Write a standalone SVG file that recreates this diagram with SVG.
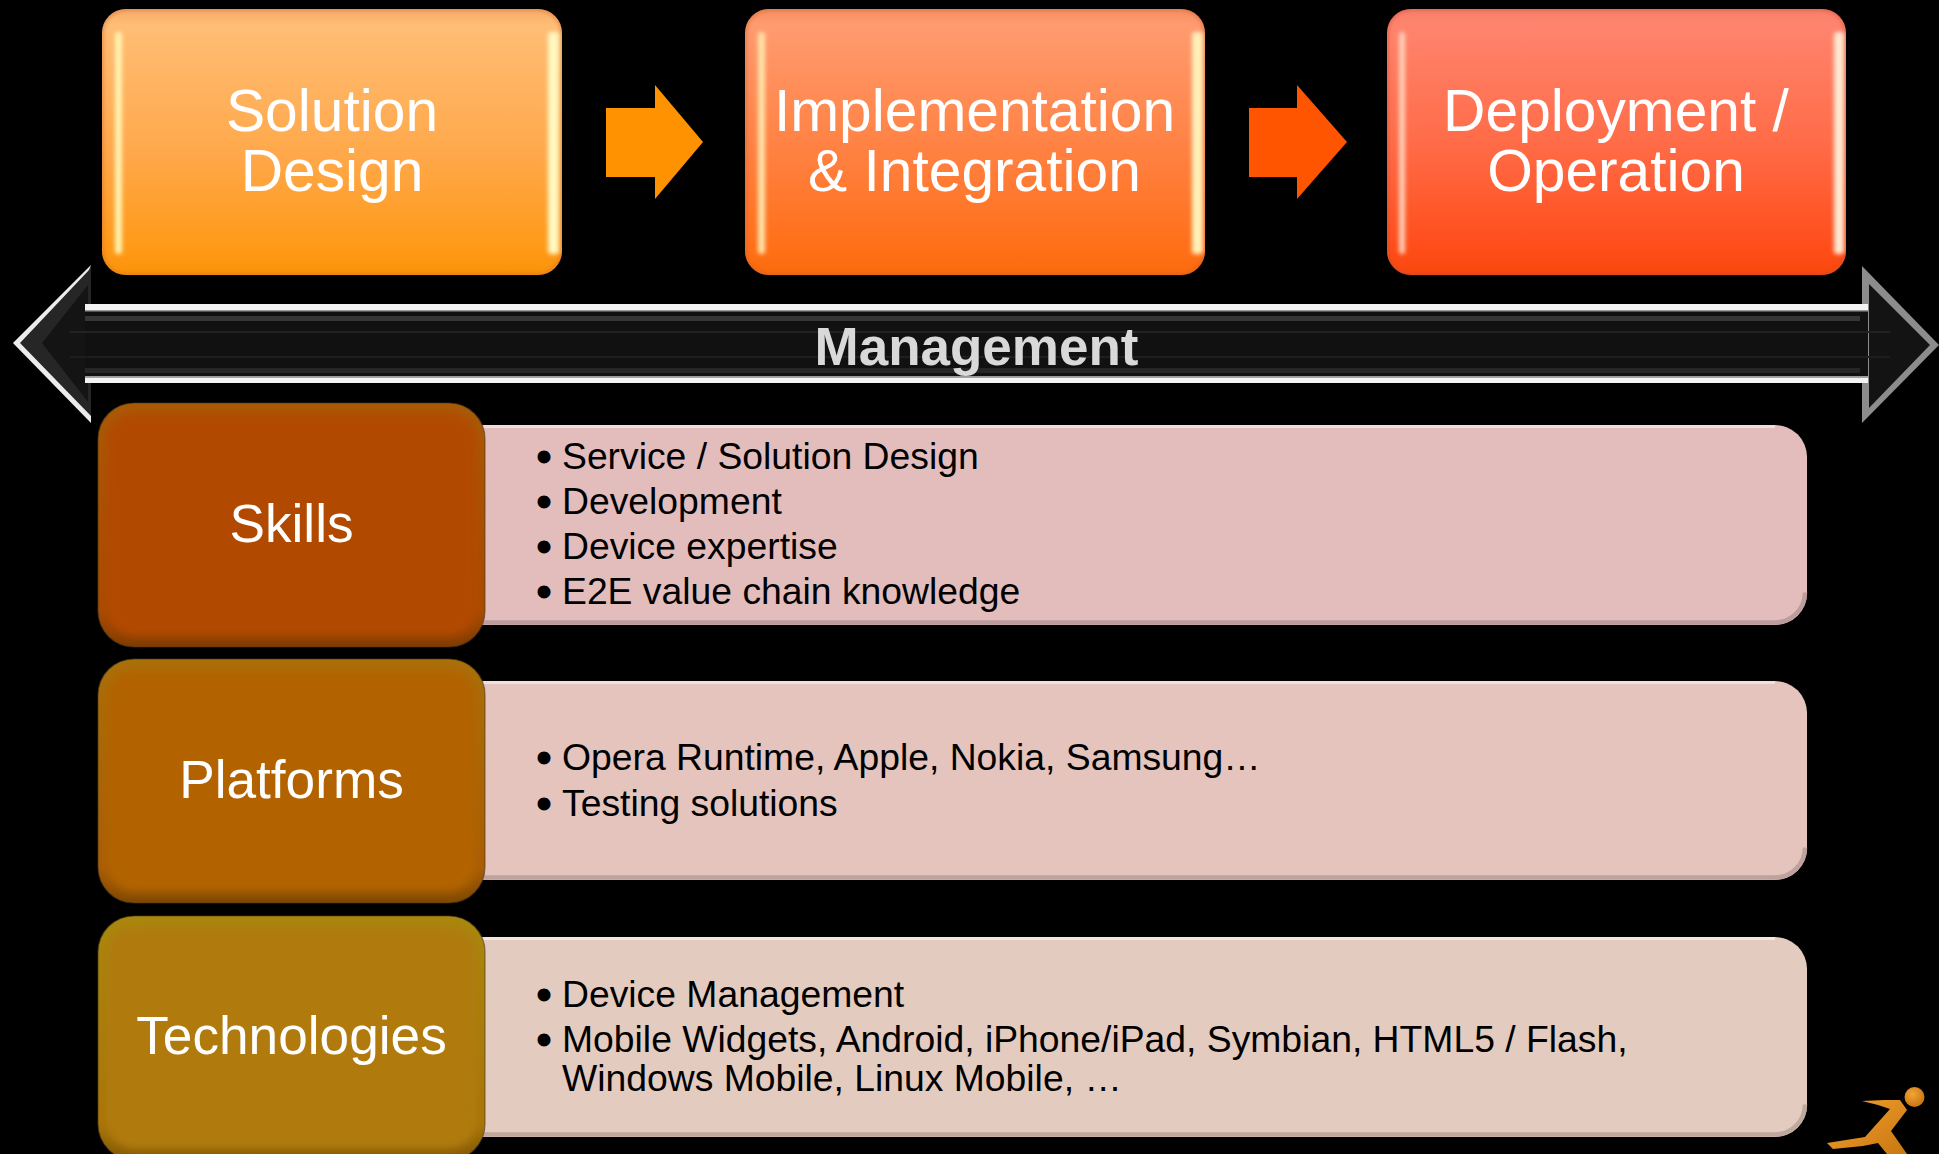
<svg xmlns="http://www.w3.org/2000/svg" width="1939" height="1154" viewBox="0 0 1939 1154">
<style>
text{font-family:"Liberation Sans",Arial,sans-serif}
.t{font-size:58.700px;fill:#fff;text-anchor:middle}
.s{font-size:53.200px;fill:#fff;text-anchor:middle}
.b{font-size:37.300px;fill:#000}
.d{font-size:37.300px;fill:#000;stroke:#000;stroke-width:2.800px}
.m{font-size:53px;font-weight:bold;fill:#d9d9d9;text-anchor:middle}
.strip{filter:url(#b2)}
.rim{fill:none;stroke-width:5;stroke-opacity:.35;filter:url(#b1)}
.edge{fill:none;stroke:#4d3a1c;stroke-width:1.200;stroke-opacity:.6}
</style>
<defs>
<filter id="b1" x="-5%" y="-5%" width="110%" height="110%"><feGaussianBlur stdDeviation="1.500"/></filter>
<filter id="b2" x="-300%" y="-5%" width="700%" height="110%"><feGaussianBlur stdDeviation="2.200"/></filter>
<filter id="b5" x="-5%" y="-5%" width="110%" height="110%"><feGaussianBlur stdDeviation="5"/></filter>
<linearGradient id="g1" x1="0" y1="0" x2="0" y2="1"><stop offset="0" stop-color="#f7aa68"/><stop offset=".06" stop-color="#ffbd75"/><stop offset=".55" stop-color="#ffa84a"/><stop offset=".9" stop-color="#ff9a18"/><stop offset="1" stop-color="#fb9208"/></linearGradient>
<linearGradient id="g2" x1="0" y1="0" x2="0" y2="1"><stop offset="0" stop-color="#f58f60"/><stop offset=".06" stop-color="#ff9b70"/><stop offset=".55" stop-color="#ff8040"/><stop offset=".9" stop-color="#ff7018"/><stop offset="1" stop-color="#fb6a0c"/></linearGradient>
<linearGradient id="g3" x1="0" y1="0" x2="0" y2="1"><stop offset="0" stop-color="#f8806a"/><stop offset=".06" stop-color="#ff846e"/><stop offset=".5" stop-color="#ff6c48"/><stop offset=".9" stop-color="#ff4d1a"/><stop offset="1" stop-color="#f8480c"/></linearGradient>
<linearGradient id="e1" x1="0" y1="0" x2="0" y2="1"><stop offset="0" stop-color="#a85a06"/><stop offset=".85" stop-color="#a84a00"/><stop offset="1" stop-color="#7e3c00"/></linearGradient>
<linearGradient id="e2" x1="0" y1="0" x2="0" y2="1"><stop offset="0" stop-color="#a8700a"/><stop offset=".85" stop-color="#a85c06"/><stop offset="1" stop-color="#7e4800"/></linearGradient>
<linearGradient id="e3" x1="0" y1="0" x2="0" y2="1"><stop offset="0" stop-color="#a8880f"/><stop offset=".85" stop-color="#a8740a"/><stop offset="1" stop-color="#7e5604"/></linearGradient>
<linearGradient id="lg" x1="0" y1="0" x2="1" y2="1"><stop offset="0" stop-color="#f5a030"/><stop offset="1" stop-color="#c87810"/></linearGradient>
<radialGradient id="hd" cx=".4" cy=".35" r=".7"><stop offset="0" stop-color="#f3a535"/><stop offset="1" stop-color="#c4730f"/></radialGradient>
<clipPath id="c1"><rect x="98" y="403" width="387" height="244" rx="36"/></clipPath>
<clipPath id="c2"><rect x="98" y="659" width="387" height="244" rx="36"/></clipPath>
<clipPath id="c3"><rect x="98" y="916" width="387" height="244" rx="36"/></clipPath>
<clipPath id="t1"><rect x="102" y="9" width="460" height="266" rx="24"/></clipPath>
<clipPath id="t2"><rect x="745" y="9" width="460" height="266" rx="24"/></clipPath>
<clipPath id="t3"><rect x="1387" y="9" width="459" height="266" rx="24"/></clipPath>
</defs>
<rect width="1939" height="1154" fill="#000"/>

<g id="management">
<polygon points="91,265 13,343 91,423" fill="#262626"/>
<polygon points="91,265 13,343 91,423 91,416 20,343 89,270" fill="#ececec"/>
<polygon points="88,285 42,343 88,402" fill="#141414"/>
<polygon points="1862,266 1939,345 1862,423" fill="#8c8c8c"/>
<polygon points="1869,284 1930,345 1869,408" fill="#131313"/>
<rect x="85" y="304" width="1783" height="79" fill="#111"/>
<rect x="85" y="316" width="1775" height="5" fill="#363636"/>
<rect x="70" y="331" width="1820" height="2" fill="#222"/>
<rect x="70" y="356" width="1820" height="2" fill="#1e1e1e"/>
<rect x="85" y="368" width="1775" height="5" fill="#262626"/>
<rect x="85" y="304" width="1783" height="6" fill="#f4f4f4"/>
<rect x="85" y="310" width="1783" height="1.500" fill="#9a9a9a"/>
<rect x="85" y="376" width="1783" height="1.500" fill="#9a9a9a"/>
<rect x="85" y="377.500" width="1783" height="5.500" fill="#f4f4f4"/>
<text class="m" x="976.500" y="365">Management</text>
</g>

<g id="solution-design">
<rect x="102" y="9" width="460" height="266" rx="24" fill="url(#g1)"/>
<g clip-path="url(#t1)"><rect class="rim" x="102" y="9" width="460" height="266" rx="24" stroke="#c8662a"/>
<rect class="strip" x="115" y="32" width="7" height="222" rx="3" fill="#fff3b0"/>
<rect class="strip" x="548" y="32" width="11" height="222" rx="3" fill="#fff8c0"/></g>
<text class="t" x="332" y="130.500">Solution</text>
<text class="t" x="332" y="190.500">Design</text>
</g>
<g id="implementation-integration">
<rect x="745" y="9" width="460" height="266" rx="24" fill="url(#g2)"/>
<g clip-path="url(#t2)"><rect class="rim" x="745" y="9" width="460" height="266" rx="24" stroke="#c85a2a"/>
<rect class="strip" x="758" y="32" width="7" height="222" rx="3" fill="#ffe3a8"/>
<rect class="strip" x="1192" y="32" width="11" height="222" rx="3" fill="#fff0b8"/></g>
<text class="t" x="974.500" y="130.500">Implementation</text>
<text class="t" x="974.500" y="190.500">&amp; Integration</text>
</g>
<g id="deployment-operation">
<rect x="1387" y="9" width="459" height="266" rx="24" fill="url(#g3)"/>
<g clip-path="url(#t3)"><rect class="rim" x="1387" y="9" width="459" height="266" rx="24" stroke="#c84a2a"/>
<rect class="strip" x="1399" y="32" width="6" height="222" rx="3" fill="#ffd0b8"/>
<rect class="strip" x="1834" y="32" width="10" height="222" rx="3" fill="#ffe8d0"/></g>
<text class="t" x="1616" y="130.500">Deployment /</text>
<text class="t" x="1616" y="190.500">Operation</text>
</g>

<g id="connectors">
<polygon points="606,108 655,108 655,85 703,142 655,199 655,177 606,177" fill="#ff9200"/>
<polygon points="1249,108 1297,108 1297,85 1347,142 1297,199 1297,177 1249,177" fill="#ff5500"/>
</g>

<g id="skills-panel">
<path d="M470 425H1775a32 32 0 0 1 32 32V593a32 32 0 0 1-32 32H470Z" fill="#e3bcbc"/>
<path d="M470 426.500H1775" stroke="#efdcdc" stroke-width="3" fill="none"/>
<path d="M470 622.500H1775a30 30 0 0 0 30-30" stroke="#bd9c9e" stroke-width="4.500" fill="none"/>
<text class="d" x="537.500" y="468.500">•</text><text class="b" x="562" y="468.500">Service / Solution Design</text>
<text class="d" x="537.500" y="513.500">•</text><text class="b" x="562" y="513.500">Development</text>
<text class="d" x="537.500" y="558.500">•</text><text class="b" x="562" y="558.500">Device expertise</text>
<text class="d" x="537.500" y="603.500">•</text><text class="b" x="562" y="603.500">E2E value chain knowledge</text>
</g>
<g id="platforms-panel">
<path d="M470 681H1775a32 32 0 0 1 32 32V848a32 32 0 0 1-32 32H470Z" fill="#e4c4bd"/>
<path d="M470 682.500H1775" stroke="#f0e0dc" stroke-width="3" fill="none"/>
<path d="M470 877.500H1775a30 30 0 0 0 30-30" stroke="#bfa29e" stroke-width="4.500" fill="none"/>
<text class="d" x="537.500" y="770">•</text><text class="b" x="562" y="770">Opera Runtime, Apple, Nokia, Samsung…</text>
<text class="d" x="537.500" y="816">•</text><text class="b" x="562" y="816">Testing solutions</text>
</g>
<g id="technologies-panel">
<path d="M470 937H1775a32 32 0 0 1 32 32V1105a32 32 0 0 1-32 32H470Z" fill="#e4cbbf"/>
<path d="M470 938.500H1775" stroke="#f2e6e0" stroke-width="3" fill="none"/>
<path d="M470 1134.500H1775a30 30 0 0 0 30-30" stroke="#bfa89e" stroke-width="4.500" fill="none"/>
<text class="d" x="537.500" y="1007">•</text><text class="b" x="562" y="1007">Device Management</text>
<text class="d" x="537.500" y="1052">•</text><text class="b" x="562" y="1052">Mobile Widgets, Android, iPhone/iPad, Symbian, HTML5 / Flash,</text>
<text class="b" x="562" y="1091">Windows Mobile, Linux Mobile, …</text>
</g>

<g id="skills">
<rect x="98" y="403" width="387" height="244" rx="36" fill="url(#e1)"/>
<g clip-path="url(#c1)"><rect x="106" y="413" width="371" height="223" rx="28" fill="#b24a00" filter="url(#b5)"/></g>
<rect class="edge" x="98" y="403" width="387" height="244" rx="36"/>
<text class="s" x="291.500" y="541.800">Skills</text>
</g>
<g id="platforms">
<rect x="98" y="659" width="387" height="244" rx="36" fill="url(#e2)"/>
<g clip-path="url(#c2)"><rect x="106" y="669" width="371" height="223" rx="28" fill="#b26306" filter="url(#b5)"/></g>
<rect class="edge" x="98" y="659" width="387" height="244" rx="36"/>
<text class="s" x="291.500" y="798">Platforms</text>
</g>
<g id="technologies">
<rect x="98" y="916" width="387" height="244" rx="36" fill="url(#e3)"/>
<g clip-path="url(#c3)"><rect x="106" y="926" width="371" height="223" rx="28" fill="#b07a08" filter="url(#b5)"/></g>
<rect class="edge" x="98" y="916" width="387" height="244" rx="36"/>
<text class="s" x="291.500" y="1054">Technologies</text>
</g>

<g id="logo">
<polygon points="1862,1101 1884,1100 1900,1100 1907,1110 1891,1131 1907,1154 1887,1154 1878,1143 1863,1146 1833,1149 1827,1143 1865,1137 1890,1109 1878,1105" fill="url(#lg)"/>
<circle cx="1914.500" cy="1097" r="10" fill="url(#hd)"/>
</g>
</svg>
